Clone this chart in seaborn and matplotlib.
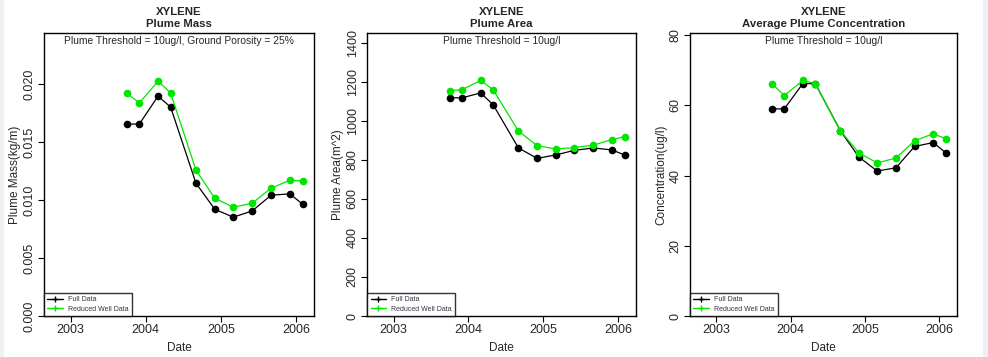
import pandas as pd
import matplotlib
matplotlib.use("Agg")
import matplotlib.pyplot as plt
from matplotlib.lines import Line2D
import seaborn as sns

# sampling dates
dates = pd.to_datetime(['2003-10-01', '2003-12-01', '2004-03-01', '2004-05-01',
                        '2004-09-01', '2004-12-01', '2005-03-01', '2005-06-01',
                        '2005-09-01', '2005-12-01', '2006-02-01'])

# plume mass (kg/m)
mass_full = [0.01655, 0.01655, 0.01896, 0.01801, 0.01145, 0.00921, 0.00852, 0.00906, 0.01042, 0.01053, 0.00964]
mass_reduced = [0.01922, 0.01836, 0.02026, 0.01922, 0.01258, 0.01016, 0.00938, 0.00973, 0.01102, 0.01171, 0.01163]

# plume area (m^2)
area_full = [1118, 1118, 1143, 1082, 861, 808, 825, 849, 861, 851, 825]
area_reduced = [1155, 1160, 1207, 1159, 948, 873, 856, 863, 876, 904, 919]

# average concentration (ug/l)
conc_full = [59.0, 59.0, 66.2, 66.2, 52.8, 45.3, 41.3, 42.2, 48.3, 49.4, 46.5]
conc_reduced = [66.2, 62.8, 67.1, 66.2, 52.8, 46.5, 43.6, 45.0, 49.9, 51.9, 50.5]

titles = ['XYLENE\nPlume Mass', 'XYLENE\nPlume Area', 'XYLENE\nAverage Plume Concentration']
subtitles = ['Plume Threshold = 10ug/l, Ground Porosity = 25%',
             'Plume Threshold = 10ug/l', 'Plume Threshold = 10ug/l']
ylabels = ['Plume Mass(kg/m)', 'Plume Area(m^2)', 'Concentration(ug/l)']
yticks = [[0.000, 0.005, 0.010, 0.015, 0.020],
          [0, 200, 400, 600, 800, 1000, 1200, 1400],
          [0, 20, 40, 60, 80]]
ytick_labels = [['0.000', '0.005', '0.010', '0.015', '0.020'],
                ['0', '200', '400', '600', '800', '1000', '1200', '1400'],
                ['0', '20', '40', '60', '80']]
ytops = [0.0244, 1450, 80.6]
year_ticks = pd.to_datetime(['2003-01-01', '2004-01-01', '2005-01-01', '2006-01-01'])
year_labels = ['2003', '2004', '2005', '2006']

sns.set_style("ticks")
plt.rcParams['font.family'] = ['Liberation Sans', 'DejaVu Sans']

fig = plt.figure(figsize=(9.88, 3.57), dpi=100)
positions = [[0.0445, 0.1148, 0.2733, 0.7927],
             [0.3715, 0.1148, 0.2722, 0.7927],
             [0.6984, 0.1148, 0.2702, 0.7927]]

series = [(mass_full, mass_reduced), (area_full, area_reduced), (conc_full, conc_reduced)]

for i in range(3):
    ax = fig.add_axes(positions[i])
    full, reduced = series[i]
    df = pd.DataFrame({'date': list(dates) * 2,
                       'value': full + reduced,
                       'set': ['Full Data'] * len(dates) + ['Reduced Well Data'] * len(dates)})
    sns.lineplot(data=df, x='date', y='value', hue='set',
                 palette={'Full Data': 'black', 'Reduced Well Data': '#00e600'},
                 marker='o', markersize=5.5, markeredgewidth=0, linewidth=0.9,
                 legend=False, ax=ax)

    ax.set_xlim(pd.Timestamp('2002-08-25'), pd.Timestamp('2006-03-28'))
    ax.set_ylim(0, ytops[i])
    ax.set_xticks(year_ticks)
    ax.set_xticklabels(year_labels, fontsize=9)
    ax.set_yticks(yticks[i])
    ax.set_yticklabels(ytick_labels[i], fontsize=9, rotation=90, va='center')
    ax.tick_params(direction='out', length=4, width=0.8, color='black', pad=2)
    for s in ax.spines.values():
        s.set_visible(True)
        s.set_color('black')
        s.set_linewidth(1)

    ax.set_title(titles[i], fontsize=8.2, fontweight='bold', pad=4, linespacing=1.35)
    ax.text(0.5, 0.99, subtitles[i], transform=ax.transAxes, ha='center', va='top', fontsize=7.4)
    ax.set_xlabel('Date', fontsize=8.5, labelpad=4)
    ax.set_ylabel(ylabels[i], fontsize=8.5, labelpad=2)

    handles = [Line2D([0], [0], color='black', lw=1, marker='+', markersize=4),
               Line2D([0], [0], color='#00e600', lw=1, marker='+', markersize=4)]
    leg = ax.legend(handles, ['Full Data', 'Reduced Well Data'], loc='lower left',
                    bbox_to_anchor=(0, 0), borderaxespad=0, fontsize=5,
                    frameon=True, fancybox=False, handlelength=2.2, borderpad=0.5,
                    labelspacing=0.3, handletextpad=0.8)
    leg.get_frame().set_edgecolor('black')
    leg.get_frame().set_linewidth(1)
    for t in leg.get_texts():
        t.set_color('#333344')

# light grey strips at the picture edges
fig.patches.append(plt.Rectangle((0, 0), 0.003, 1, transform=fig.transFigure, color='#eef0f4', zorder=0))
fig.patches.append(plt.Rectangle((0.995, 0), 0.005, 1, transform=fig.transFigure, color='#eef0f4', zorder=0))

plt.savefig('out.png', dpi=100)
